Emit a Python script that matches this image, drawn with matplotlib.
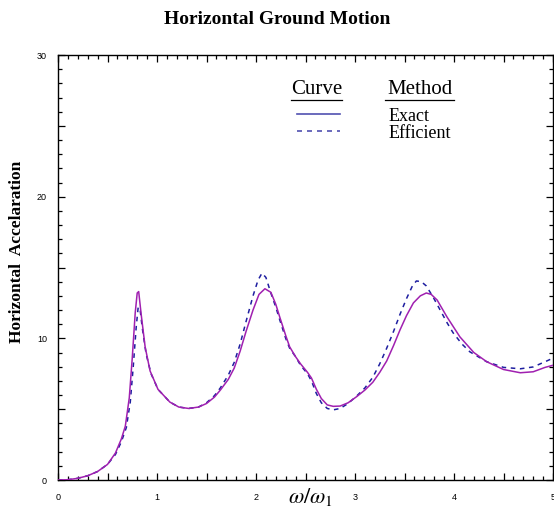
import matplotlib
matplotlib.use("Agg")
import matplotlib.pyplot as plt
from matplotlib.ticker import MultipleLocator, FuncFormatter
from matplotlib.lines import Line2D

# ---- data ----
x_exact = [0.00, 0.10, 0.20, 0.30, 0.40, 0.50, 0.58, 0.64, 0.68, 0.72, 0.75, 0.78, 0.80, 0.815,
           0.84, 0.88, 0.93, 1.01, 1.13, 1.22, 1.32, 1.42, 1.50, 1.58, 1.64, 1.72, 1.78, 1.84,
           1.90, 1.97, 2.03, 2.09, 2.15, 2.20, 2.24, 2.30, 2.34, 2.40, 2.45, 2.52, 2.56, 2.61,
           2.66, 2.72, 2.78, 2.85, 2.93, 3.02, 3.10, 3.18, 3.25, 3.32, 3.39, 3.455, 3.52, 3.59,
           3.66, 3.72, 3.77, 3.83, 3.93, 4.06, 4.20, 4.33, 4.50, 4.67, 4.80, 4.92, 5.00]
y_exact = [0.0, 0.02, 0.12, 0.3, 0.6, 1.1, 1.9, 2.9, 3.8, 5.8, 8.6, 11.8, 13.2, 13.3,
           11.7, 9.4, 7.7, 6.4, 5.5, 5.15, 5.05, 5.15, 5.4, 5.85, 6.35, 7.1, 7.9, 9.1,
           10.5, 12.0, 13.1, 13.5, 13.25, 12.4, 11.5, 10.2, 9.4, 8.7, 8.2, 7.6, 7.2, 6.4,
           5.75, 5.3, 5.2, 5.22, 5.45, 5.9, 6.35, 6.9, 7.6, 8.4, 9.5, 10.6, 11.6, 12.5,
           13.0, 13.2, 13.1, 12.7, 11.5, 10.1, 9.0, 8.35, 7.8, 7.57, 7.64, 7.95, 8.1]

x_eff = [0.00, 0.10, 0.20, 0.30, 0.40, 0.50, 0.58, 0.64, 0.69, 0.73, 0.76, 0.79, 0.81, 0.83,
         0.85, 0.89, 0.94, 1.01, 1.13, 1.22, 1.32, 1.42, 1.50, 1.58, 1.64, 1.72, 1.78, 1.84,
         1.90, 1.97, 2.02, 2.06, 2.10, 2.15, 2.20, 2.24, 2.30, 2.34, 2.40, 2.45, 2.52, 2.56,
         2.61, 2.66, 2.72, 2.78, 2.85, 2.93, 3.02, 3.10, 3.18, 3.25, 3.32, 3.39, 3.455, 3.52,
         3.58, 3.62, 3.67, 3.72, 3.79, 3.86, 3.93, 3.99, 4.08, 4.16, 4.33, 4.50, 4.67, 4.80,
         4.92, 5.00]
y_eff = [0.0, 0.02, 0.12, 0.3, 0.6, 1.1, 1.8, 2.7, 3.7, 5.5, 8.0, 10.8, 12.2, 12.0,
         10.8, 8.9, 7.5, 6.4, 5.5, 5.15, 5.05, 5.15, 5.45, 5.95, 6.5, 7.4, 8.3, 9.6,
         11.2, 13.0, 14.1, 14.6, 14.3, 13.2, 12.2, 11.3, 10.0, 9.3, 8.7, 8.1, 7.5, 7.0,
         6.1, 5.45, 5.05, 4.95, 5.05, 5.4, 5.95, 6.5, 7.25, 8.2, 9.3, 10.5, 11.7, 12.8,
         13.7, 14.05, 14.0, 13.7, 12.9, 12.0, 11.1, 10.4, 9.6, 9.05, 8.35, 7.95, 7.85, 7.98,
         8.35, 8.6]

x_tick_labels = ["0", "1", "2", "3", "4", "5"]
y_tick_labels = ["0", "10", "20", "30"]

title = "Horizontal Ground Motion"
ylabel = "Horizontal  Accelaration"
xlabel = r"$\omega/\omega_1$"
legend_head = ["Curve", "Method"]
legend_names = ["Exact", "Efficient"]

exact_color = "#A020B0"
eff_color = "#1E1EA0"
legend_color = "#5050B0"

# ---- figure ----
plt.rcParams["mathtext.fontset"] = "stix"
fig = plt.figure(figsize=(5.54, 5.14), dpi=100)
W, H = 554, 514
ax_left, ax_right, ax_top, ax_bot = 58, 553, 55, 480
ax = fig.add_axes([ax_left / W, (H - ax_bot) / H, (ax_right - ax_left) / W, (ax_bot - ax_top) / H])

ax.plot(x_exact, y_exact, color=exact_color, lw=1.1, zorder=3)
ax.plot(x_eff, y_eff, color=eff_color, lw=1.1, dashes=(3, 3), zorder=2)

ax.set_xlim(0, 5)
ax.set_ylim(0, 30)

ax.xaxis.set_major_locator(MultipleLocator(0.5))
ax.xaxis.set_minor_locator(MultipleLocator(0.1))
ax.yaxis.set_major_locator(MultipleLocator(5))
ax.yaxis.set_minor_locator(MultipleLocator(1))


def xfmt(v, pos):
    i = int(round(v))
    if abs(v - i) < 1e-6 and 0 <= i < len(x_tick_labels):
        return x_tick_labels[i]
    return ""


def yfmt(v, pos):
    i = int(round(v))
    if abs(v - i) < 1e-6 and i % 10 == 0 and 0 <= i // 10 < len(y_tick_labels):
        return y_tick_labels[i // 10]
    return ""


ax.xaxis.set_major_formatter(FuncFormatter(xfmt))
ax.yaxis.set_major_formatter(FuncFormatter(yfmt))

ax.tick_params(which="both", direction="in", top=True, right=True, width=0.9, color="black")
ax.tick_params(which="major", length=5)
ax.tick_params(which="minor", length=3)
ax.tick_params(axis="x", which="major", pad=9, labelsize=6.5)
ax.tick_params(axis="y", which="major", pad=8, labelsize=6.5)
for lab in ax.get_xticklabels() + ax.get_yticklabels():
    lab.set_fontfamily("Liberation Sans")
for sp in ax.spines.values():
    sp.set_linewidth(1.0)

fig.text(0.5, 1 - 19 / H, title, ha="center", va="center",
         fontfamily="Liberation Serif", fontweight="bold", fontsize=14)
fig.text(17 / W, 1 - 252 / H, ylabel, ha="center", va="center", rotation=90,
         fontfamily="Liberation Serif", fontweight="bold", fontsize=12.5)
fig.text(310 / W, 1 - 497 / H, xlabel, ha="center", va="center", fontsize=16)


def ax_xy(px, py):
    return (px - ax_left) / (ax_right - ax_left), (ax_bot - py) / (ax_bot - ax_top)


# legend headers with underline
for name, cx, x0, x1 in [(legend_head[0], 317, 291, 342), (legend_head[1], 420, 385, 454)]:
    tx, ty = ax_xy(cx, 89)
    ax.text(tx, ty, name, transform=ax.transAxes, ha="center", va="center",
            fontfamily="Liberation Serif", fontsize=15)
    ux0, uy = ax_xy(x0, 100)
    ux1, _ = ax_xy(x1, 100)
    ax.add_line(Line2D([ux0, ux1], [uy, uy], transform=ax.transAxes, color="black", lw=0.9))

# legend sample lines
lx0, ly1 = ax_xy(297, 114)
lx1, ly2 = ax_xy(340, 131)
ax.add_line(Line2D([lx0, lx1], [ly1, ly1], transform=ax.transAxes, color=legend_color, lw=1.2))
ax.add_line(Line2D([lx0, lx1], [ly2, ly2], transform=ax.transAxes, color=legend_color, lw=1.2,
                   dashes=(3, 3)))
for name, py in [(legend_names[0], 116), (legend_names[1], 133)]:
    tx, ty = ax_xy(389, py)
    ax.text(tx, ty, name, transform=ax.transAxes, ha="left", va="center",
            fontfamily="Liberation Serif", fontsize=13)

fig.savefig("out.png", dpi=100)
